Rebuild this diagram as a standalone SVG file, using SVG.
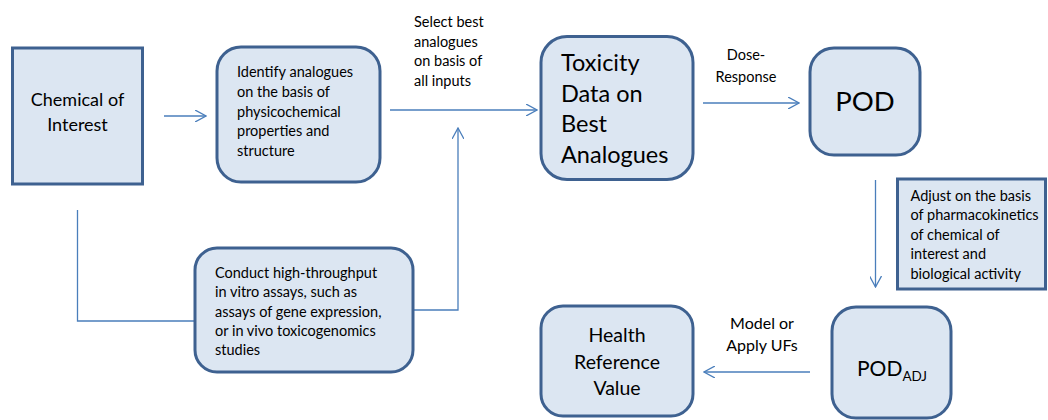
<svg xmlns="http://www.w3.org/2000/svg" width="1048" height="420" viewBox="0 0 1048 420">
<style>
.box{fill:#dce6f2;stroke:#3e6190;stroke-width:3}
.con{fill:none;stroke:#4a7ebb;stroke-width:1.3}
text{font-family:Lato,"Open Sans","Liberation Sans",sans-serif;fill:#000}
.s{font-size:14.5px}
.c{text-anchor:middle}
</style>
<defs>
<marker id="ah" viewBox="0 0 12 12" refX="11" refY="6" markerWidth="12" markerHeight="12" markerUnits="userSpaceOnUse" orient="auto">
<path d="M0,0 L11,6 L0,12" fill="none" stroke="#4a7ebb" stroke-width="1.3"/>
</marker>
</defs>
<rect width="1048" height="420" fill="#fff"/>
<g id="connectors">
<line class="con" x1="164" y1="116" x2="206" y2="116" marker-end="url(#ah)"/>
<line class="con" x1="390" y1="110" x2="537" y2="110" marker-end="url(#ah)"/>
<polyline class="con" points="413,310 458,310 458,128" marker-end="url(#ah)"/>
<polyline class="con" points="77.5,210 77.5,321 195,321"/>
<line class="con" x1="703" y1="103" x2="799" y2="103" marker-end="url(#ah)"/>
<line class="con" x1="875.5" y1="180" x2="875.5" y2="287" marker-end="url(#ah)"/>
<line class="con" x1="810" y1="372" x2="704" y2="372" marker-end="url(#ah)"/>
<g id="lbl-select">
<text class="s" x="414" y="27">Select best</text>
<text class="s" x="414" y="47">analogues</text>
<text class="s" x="414" y="66">on basis of</text>
<text class="s" x="414" y="86">all inputs</text>
</g>
<g id="lbl-dose">
<text class="s c" x="746" y="60">Dose-</text>
<text class="s c" x="746" y="82">Response</text>
</g>
<g id="lbl-model">
<text class="c" x="762" y="329" font-size="16">Model or</text>
<text class="c" x="762" y="351" font-size="16">Apply UFs</text>
</g>
</g>
<g id="chemical">
<rect class="box" x="12.5" y="48" width="130" height="136"/>
<text class="c" x="77.5" y="106" font-size="18">Chemical of</text>
<text class="c" x="77.5" y="131" font-size="18">Interest</text>
</g>
<g id="identify">
<rect class="box" x="217" y="47" width="163" height="135" rx="24"/>
<text class="s" x="237" y="77">Identify analogues</text>
<text class="s" x="237" y="97">on the basis of</text>
<text class="s" x="237" y="117">physicochemical</text>
<text class="s" x="237" y="136">properties and</text>
<text class="s" x="237" y="156">structure</text>
</g>
<g id="toxicity">
<rect class="box" x="541" y="36.5" width="152" height="143" rx="26"/>
<text x="561" y="71" font-size="23.5">Toxicity</text>
<text x="561" y="102" font-size="23.5">Data on</text>
<text x="561" y="132" font-size="23.5">Best</text>
<text x="561" y="163" font-size="23.5">Analogues</text>
</g>
<g id="pod">
<rect class="box" x="810" y="48" width="110" height="107" rx="24"/>
<text class="c" x="865" y="111" font-size="27.5">POD</text>
</g>
<g id="adjust">
<rect class="box" x="897.5" y="179" width="148" height="110"/>
<text class="s" x="910.5" y="201">Adjust on the basis</text>
<text class="s" x="910.5" y="220">of pharmacokinetics</text>
<text class="s" x="910.5" y="240">of chemical of</text>
<text class="s" x="910.5" y="259">interest and</text>
<text class="s" x="910.5" y="279">biological activity</text>
</g>
<g id="conduct">
<rect class="box" x="195" y="248" width="218" height="124" rx="22"/>
<text class="s" x="215" y="277.5">Conduct high-throughput</text>
<text class="s" x="215" y="297">in vitro assays, such as</text>
<text class="s" x="215" y="317">assays of gene expression,</text>
<text class="s" x="215" y="336">or in vivo toxicogenomics</text>
<text class="s" x="215" y="355">studies</text>
</g>
<g id="health">
<rect class="box" x="541" y="306" width="152" height="110" rx="22"/>
<text class="c" x="617" y="342" font-size="19.5">Health</text>
<text class="c" x="617" y="369" font-size="19.5">Reference</text>
<text class="c" x="617" y="395" font-size="19.5">Value</text>
</g>
<g id="podadj">
<rect class="box" x="832" y="307" width="119" height="111" rx="24"/>
<text x="857" y="376" font-size="21">POD<tspan font-size="13.5" dy="5">ADJ</tspan></text>
</g>
</svg>
